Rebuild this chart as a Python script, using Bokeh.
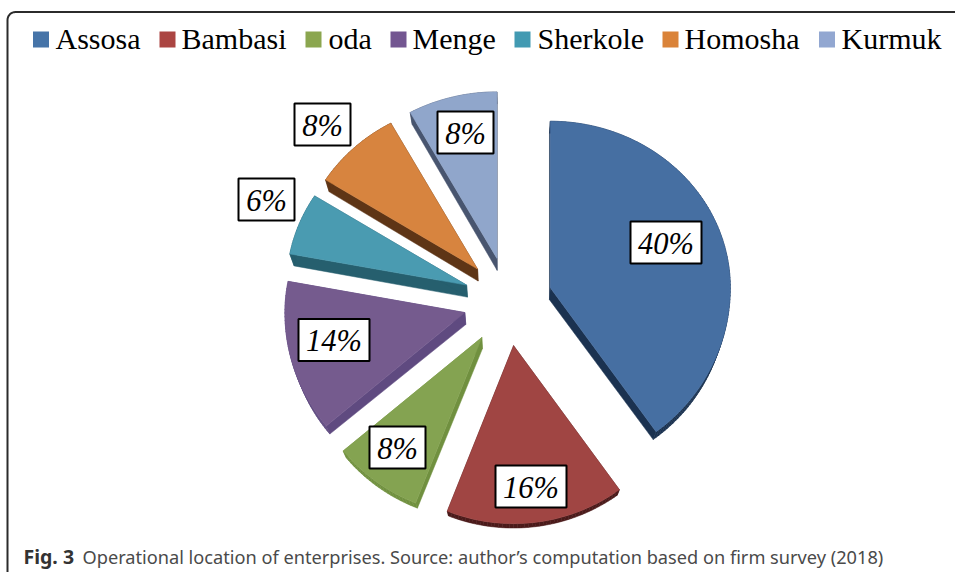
import math
from bokeh.plotting import figure
from bokeh.models import Range1d
from bokeh.core.properties import value
from bokeh.embed import file_html
from bokeh.resources import INLINE

categories = ["Assosa", "Bambasi", "oda", "Menge", "Sherkole", "Homosha", "Kurmuk"]
shares = [40, 16, 8, 14, 6, 8, 8]
top_colors = ["#466fa2", "#a04543", "#84a351", "#755b8e", "#4a9bb1", "#d7843f", "#90a6cb"]
side_colors = ["#1b3250", "#4b1a1a", "#70903f", "#5f4a80", "#265f6e", "#5e3516", "#48556f"]
legend_colors = ["#4674a8", "#ab4542", "#8ba64f", "#735691", "#429ab2", "#da8339", "#92a7d1"]
legend_swatch_x = [40.5, 167, 313, 398, 522, 670, 826.5]
legend_text_x = [55, 181, 328, 412, 537, 684, 841]
label_centers = [(665.5, 242), (530.5, 486), (397, 447), (333.5, 339.5), (266, 199), (322, 124), (465, 132)]

FONT = value("Liberation Serif")
CX, CY = 507.5, 301
RX, RY_UP, RY_DOWN = 180, 166.5, 178
EXPLODE = 44.5

p = figure(width=955, height=572, output_backend="svg", toolbar_location=None,
           x_range=Range1d(0, 955), y_range=Range1d(572, 0),
           min_border=0, min_border_left=0, min_border_right=0, min_border_top=0, min_border_bottom=0)
p.axis.visible = False
p.grid.visible = False
p.outline_line_color = None
p.background_fill_color = "#ffffff"


def lower(pt):
    x, y = pt
    return (x + (CX - x) * 0.02, y + min(12, 12 - (y - 320) * 0.0375))


# rounded frame
r = 8
corner = [(7 + r - r * math.cos(a * math.pi / 16), 11.5 + r - r * math.sin(a * math.pi / 16)) for a in range(9)]
fx = [7] + [c[0] for c in corner] + [955]
fy = [572] + [c[1] for c in corner] + [11.5]
p.line(fx, fy, line_color="#2b2b2b", line_width=2)

# slices
total = sum(shares)
start = 0.0
for share, top, side in zip(shares, top_colors, side_colors):
    sweep = 2 * math.pi * share / total
    mid = start + sweep / 2
    ax = CX + EXPLODE * math.sin(mid)
    ay = CY - EXPLODE * math.cos(mid)
    n = max(6, int(share * 3))
    outline = [(ax, ay)]
    for i in range(n + 1):
        t = start + sweep * i / n
        c = math.cos(t)
        outline.append((ax + RX * math.sin(t), ay - (RY_UP if c > 0 else RY_DOWN) * c))
    closed = outline + [outline[0]]
    qx, qy = [], []
    for a, b in zip(closed[:-1], closed[1:]):
        la, lb = lower(a), lower(b)
        qx.append([a[0], b[0], lb[0], la[0]])
        qy.append([a[1], b[1], lb[1], la[1]])
    p.patches(qx, qy, fill_color=side, line_color=side, line_width=0.5)
    p.patch([q[0] for q in outline], [q[1] for q in outline], fill_color=top, line_color=top, line_width=0.5)
    start += sweep

# boxed labels
for share, (lx, ly) in zip(shares, label_centers):
    txt = f"{share}%"
    w = 71 if share >= 10 else 56
    p.rect([lx], [ly], width=w, height=42, fill_color="#ffffff", line_color="#000000", line_width=2)
    p.text([lx], [ly + 1], text=[txt], text_font=FONT, text_font_style="italic", text_font_size="30.5px",
           text_align="center", text_baseline="middle", text_color="#000000")

# legend
for name, col, sx, tx in zip(categories, legend_colors, legend_swatch_x, legend_text_x):
    p.rect([sx], [39], width=16, height=16, fill_color=col, line_color=None)
    p.text([tx], [37.5], text=[name], text_font=FONT, text_font_size="30px",
           text_align="left", text_baseline="middle", text_color="#000000")

# caption
p.text([23], [556], text=["Fig. 3"], text_font=value("Noto Sans"), text_font_style="bold", text_font_size="19.5px",
       text_align="left", text_baseline="middle", text_color="#333333")
p.text([82], [556], text=["Operational location of enterprises. Source: author\u2019s computation based on firm survey (2018)"],
       text_font=value("Noto Sans"), text_font_size="18.2px",
       text_align="left", text_baseline="middle", text_color="#4a4a4a")

open("out.html", "w").write(file_html(p, INLINE))
